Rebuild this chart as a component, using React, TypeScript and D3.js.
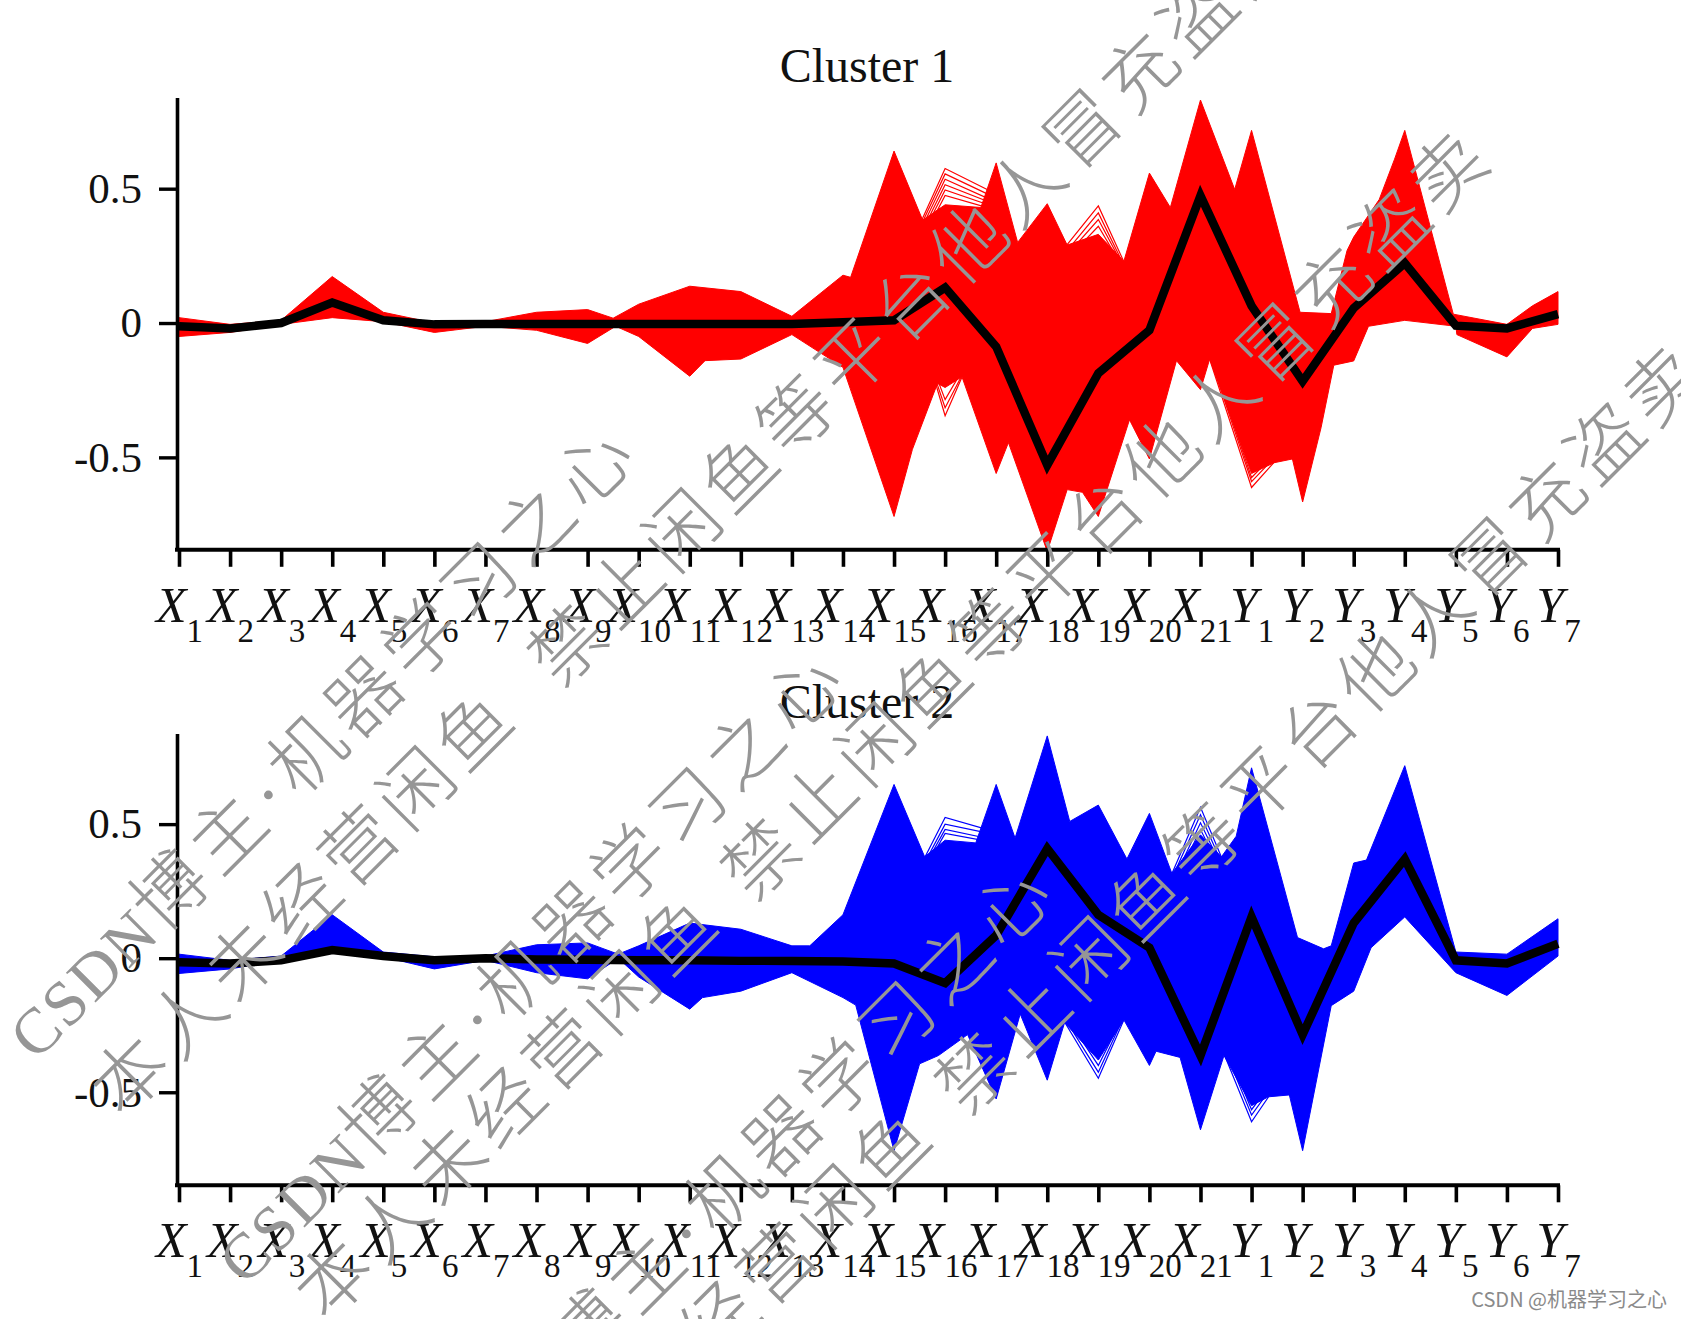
import { useEffect, useRef } from "react";
import * as d3 from "d3";

const WIDTH = 1681;
const HEIGHT = 1319;

const variables = [
  "X1", "X2", "X3", "X4", "X5", "X6", "X7", "X8", "X9", "X10", "X11", "X12", "X13", "X14",
  "X15", "X16", "X17", "X18", "X19", "X20", "X21", "Y1", "Y2", "Y3", "Y4", "Y5", "Y6", "Y7",
];
const yTicks = [-0.5, 0, 0.5];

// envelope of the member lines: position along the variables (0 = X1) and value
const c1UpperPos = [0, 1, 2, 3, 4, 5, 6, 7, 8, 8.5, 9, 10, 11, 12, 13, 13.15, 14, 14.56, 15, 15.7, 16, 16.42, 17, 17.39, 18, 18.5, 19, 19.41, 20, 20.67, 21, 21.95, 22.56, 22.87, 23, 23.5, 23.8, 24, 24.95, 26, 26.5, 27];
const c1UpperVal = [0.02, -0.005, 0.01, 0.173, 0.04, 0, 0.005, 0.04, 0.05, 0.018, 0.07, 0.137, 0.117, 0.025, 0.178, 0.17, 0.64, 0.383, 0.44, 0.43, 0.596, 0.3, 0.444, 0.29, 0.33, 0.23, 0.558, 0.43, 0.83, 0.497, 0.717, 0.04, 0.035, 0.27, 0.32, 0.46, 0.61, 0.717, 0.033, -0.005, 0.064, 0.117];
const c1LowerPos = [0, 1, 2, 3, 4, 5, 6, 7, 8, 8.55, 9, 10, 10.3, 11, 12, 13, 14, 14.36, 14.85, 15, 15.33, 16, 16.24, 17, 17.39, 17.69, 18, 18.61, 19, 19.53, 20, 20.18, 21, 21.44, 21.8, 22, 22.36, 22.61, 23, 23.29, 24, 25, 25.02, 26, 26.5, 27];
const c1LowerVal = [-0.05, -0.035, -0.005, 0.02, 0.005, -0.035, -0.012, -0.027, -0.076, -0.012, -0.05, -0.198, -0.14, -0.134, -0.043, -0.165, -0.72, -0.47, -0.225, -0.24, -0.2, -0.56, -0.445, -0.85, -0.62, -0.63, -0.72, -0.36, -0.506, -0.14, -0.248, -0.134, -0.56, -0.52, -0.506, -0.666, -0.39, -0.157, -0.141, -0.012, 0.01, -0.012, -0.043, -0.126, -0.02, -0.005];
const c1Mean = [-0.012, -0.02, 0, 0.076, 0.01, -0.005, -0.004, -0.004, -0.004, -0.004, -0.004, -0.004, -0.004, 0.003, 0.01, 0.132, -0.088, -0.529, -0.187, -0.027, 0.474, 0.064, -0.217, 0.056, 0.223, -0.01, -0.02, 0.033];

const c2UpperPos = [0, 1, 2, 3, 4, 5, 6, 7, 8, 8.6, 9, 10, 11, 12, 12.35, 13, 14, 14.6, 15, 15.6, 16, 16.37, 17, 17.44, 18, 18.56, 19, 19.44, 20, 20.41, 20.7, 21, 21.9, 22.41, 22.56, 23, 23.25, 24, 25, 26, 27];
const c2UpperVal = [0.015, -0.008, 0.008, 0.162, 0.023, 0.005, 0.008, 0.05, 0.057, 0.015, 0.046, 0.131, 0.108, 0.046, 0.046, 0.162, 0.648, 0.378, 0.44, 0.43, 0.648, 0.448, 0.829, 0.51, 0.571, 0.37, 0.54, 0.316, 0.46, 0.378, 0.455, 0.71, 0.077, 0.035, 0.046, 0.355, 0.366, 0.718, 0.023, 0.015, 0.147];
const c2LowerPos = [0, 1, 2, 3, 4, 5, 6, 7, 8, 8.6, 9, 10, 10.25, 11, 12, 13, 13.25, 14, 14.5, 14.87, 15.44, 16, 16.47, 17, 17.34, 18, 18.5, 19, 19.13, 19.6, 20, 20.46, 21, 21.33, 21.74, 22, 22.56, 23, 23.34, 24, 25, 26, 27];
const c2LowerVal = [-0.057, -0.04, -0.008, 0.023, 0.005, -0.04, -0.008, -0.054, -0.077, 0, -0.07, -0.19, -0.147, -0.123, -0.054, -0.147, -0.175, -0.718, -0.394, -0.363, -0.285, -0.525, -0.208, -0.455, -0.24, -0.38, -0.23, -0.4, -0.347, -0.37, -0.64, -0.363, -0.55, -0.517, -0.51, -0.718, -0.177, -0.123, 0.039, 0.154, -0.054, -0.139, 0.008];
const c2Mean = [-0.015, -0.02, -0.008, 0.03, 0.008, -0.008, 0, -0.005, -0.006, -0.008, -0.008, -0.01, -0.01, -0.012, -0.02, -0.093, 0.085, 0.409, 0.162, 0.039, -0.363, 0.154, -0.285, 0.131, 0.37, -0.008, -0.02, 0.054];

// stray member lines standing clear of the solid band: [tick, before, at tick, after]
const c1Strays = [
  [15, 0.155, 0.575, 0.48], [15, 0.15, 0.555, 0.465], [15, 0.14, 0.535, 0.45], [15, 0.13, 0.515, 0.44],
  [15, 0.12, 0.495, 0.43], [15, 0.11, 0.475, 0.42],
  [18, 0.2, 0.436, 0.02], [18, 0.18, 0.41, 0.02], [18, 0.17, 0.385, 0.03], [18, 0.16, 0.36, 0.04],
  [15, 0.3, -0.345, 0.09], [15, 0.25, -0.315, 0.05], [15, 0.22, -0.285, 0.04],
  [21, -0.03, -0.612, -0.4], [21, -0.02, -0.59, -0.39], [21, -0.01, -0.575, -0.38],
];
const c2Strays = [
  [15, 0.15, 0.525, 0.47], [15, 0.14, 0.5, 0.46], [15, 0.14, 0.48, 0.44], [15, 0.13, 0.465, 0.43],
  [20, 0.12, 0.563, 0.11], [20, 0.11, 0.535, 0.1], [20, 0.1, 0.505, 0.11], [20, 0.09, 0.48, 0.1],
  [18, -0.13, -0.448, -0.012], [18, -0.12, -0.425, -0.01], [18, -0.11, -0.4, -0.02],
  [21, -0.14, -0.61, -0.33], [21, -0.12, -0.585, -0.32], [21, -0.1, -0.565, -0.31],
];

const watermarkBrand = "CSDN";
const watermarkCsdn = "博主·机器学习之心";
const watermarkOwner = "本人未经营闲鱼";
const watermarkBan = "禁止闲鱼等平台他人冒充盗卖";

const clusters = [
  {
    title: "Cluster 1", color: "#ff0000",
    upperPos: c1UpperPos, upperVal: c1UpperVal, lowerPos: c1LowerPos, lowerVal: c1LowerVal, mean: c1Mean, strays: c1Strays,
    top: 97.6, bottom: 549.8, domain: [-0.844, 0.839], titleY: 82,
  },
  {
    title: "Cluster 2", color: "#0000ff",
    upperPos: c2UpperPos, upperVal: c2UpperVal, lowerPos: c2LowerPos, lowerVal: c2LowerVal, mean: c2Mean, strays: c2Strays,
    top: 733.5, bottom: 1185.3, domain: [-0.847, 0.838], titleY: 718,
  },
];

export default function App() {
  const svgRef = useRef<SVGSVGElement | null>(null);

  useEffect(() => {
    const serif = "'Liberation Serif', 'Times New Roman', serif";
    const svg = d3.select(svgRef.current);
    svg.selectAll("*").remove();

    const x = d3.scaleLinear().domain([0, variables.length - 1]).range([179, 1558]);

    clusters.forEach((c) => {
      const y = d3.scaleLinear().domain(c.domain).range([c.bottom, c.top]);
      const g = svg.append("g");

      const line = d3.line<[number, number]>().x((d) => x(d[0])).y((d) => y(d[1]));

      const upper = c.upperPos.map((p, i) => [p, c.upperVal[i]] as [number, number]);
      const lower = c.lowerPos.map((p, i) => [p, c.lowerVal[i]] as [number, number]).reverse();

      g.append("path")
        .attr("d", line(upper.concat(lower)) + "Z")
        .attr("fill", c.color)
        .attr("stroke", c.color)
        .attr("stroke-width", 1);

      g.selectAll("path.stray")
        .data(c.strays)
        .join("path")
        .attr("class", "stray")
        .attr("d", (s) => line([[s[0] - 1, s[1]], [s[0], s[2]], [s[0] + 1, s[3]]]))
        .attr("fill", "none")
        .attr("stroke", c.color)
        .attr("stroke-width", 1.2);

      g.append("path")
        .attr("d", line(c.mean.map((v, i) => [i, v] as [number, number])))
        .attr("fill", "none")
        .attr("stroke", "#000")
        .attr("stroke-width", 8.5)
        .attr("stroke-linejoin", "miter");

      const yAxis = g
        .append("g")
        .attr("transform", "translate(177,0)")
        .call(
          d3
            .axisLeft(y)
            .tickValues(yTicks)
            .tickSize(18)
            .tickPadding(17)
            .tickSizeOuter(0)
            .tickFormat((d) => String(d))
        );
      yAxis.select(".domain").attr("stroke", "#000").attr("stroke-width", 3.6);
      yAxis.selectAll(".tick line").attr("stroke", "#000").attr("stroke-width", 3.4);
      yAxis
        .selectAll(".tick text")
        .attr("font-family", serif)
        .attr("font-size", 43)
        .attr("fill", "#111");

      const xAxis = g
        .append("g")
        .attr("transform", `translate(0,${c.bottom})`)
        .call(
          d3
            .axisBottom(x)
            .tickValues(d3.range(variables.length))
            .tickSize(17)
            .tickSizeOuter(0)
            .tickFormat(() => "")
        );
      xAxis.select(".domain").attr("d", "M175,0H1560").attr("stroke", "#000").attr("stroke-width", 4);
      xAxis.selectAll(".tick line").attr("stroke", "#000").attr("stroke-width", 3.6);

      // italic letter with a subscript index, as in the original tick labels
      const labels = xAxis
        .selectAll(".tick text")
        .attr("y", 72)
        .attr("dy", 0)
        .attr("font-family", serif)
        .attr("fill", "#111");
      labels.each(function (_, i) {
        const t = d3.select(this);
        const name = variables[i];
        t.append("tspan").attr("font-style", "italic").attr("font-size", 50).text(name[0]);
        t.append("tspan").attr("font-size", 33).attr("dy", 20).text(name.slice(1));
      });

      g.append("text")
        .attr("x", 867)
        .attr("y", c.titleY)
        .attr("text-anchor", "middle")
        .attr("font-family", serif)
        .attr("font-size", 48)
        .attr("fill", "#111")
        .text(c.title);
    });

    // diagonal repeated watermark on top of both panels
    const marks: [string, string, number, number][] = [
      [watermarkBrand, watermarkCsdn, 36, 1062],
      ["", watermarkOwner, 122, 1120],
      ["", watermarkBan, 560, 690],
      [watermarkBrand, watermarkCsdn, 245, 1287],
      ["", watermarkOwner, 326, 1324],
      ["", watermarkBan, 753, 904],
      [watermarkBrand, watermarkCsdn, 454, 1501],
      ["", watermarkOwner, 540, 1538],
      ["", watermarkBan, 967, 1118],
    ];
    const wm = svg
      .append("g")
      .selectAll("text")
      .data(marks)
      .join("text")
      .attr("transform", (d) => `translate(${d[2]},${d[3]}) rotate(-45)`)
      .attr("font-family", "'Liberation Serif', 'Noto Sans CJK SC', sans-serif")
      .attr("font-weight", 300)
      .attr("fill", "#969696");
    wm.append("tspan").attr("font-size", 64).attr("letter-spacing", 2).text((d) => d[0]);
    wm.append("tspan").attr("font-size", 74).attr("letter-spacing", 7).text((d) => d[1]);

    svg
      .append("text")
      .attr("x", 1667)
      .attr("y", 1307)
      .attr("text-anchor", "end")
      .attr("font-family", "'Noto Sans CJK SC', sans-serif")
      .attr("font-size", 20)
      .attr("fill", "#8a8a8a")
      .text("CSDN @机器学习之心");
  }, []);

  return (
    <svg
      ref={svgRef}
      width={WIDTH}
      height={HEIGHT}
      style={{ position: "absolute", left: 0, top: 0, background: "#fff" }}
    />
  );
}
